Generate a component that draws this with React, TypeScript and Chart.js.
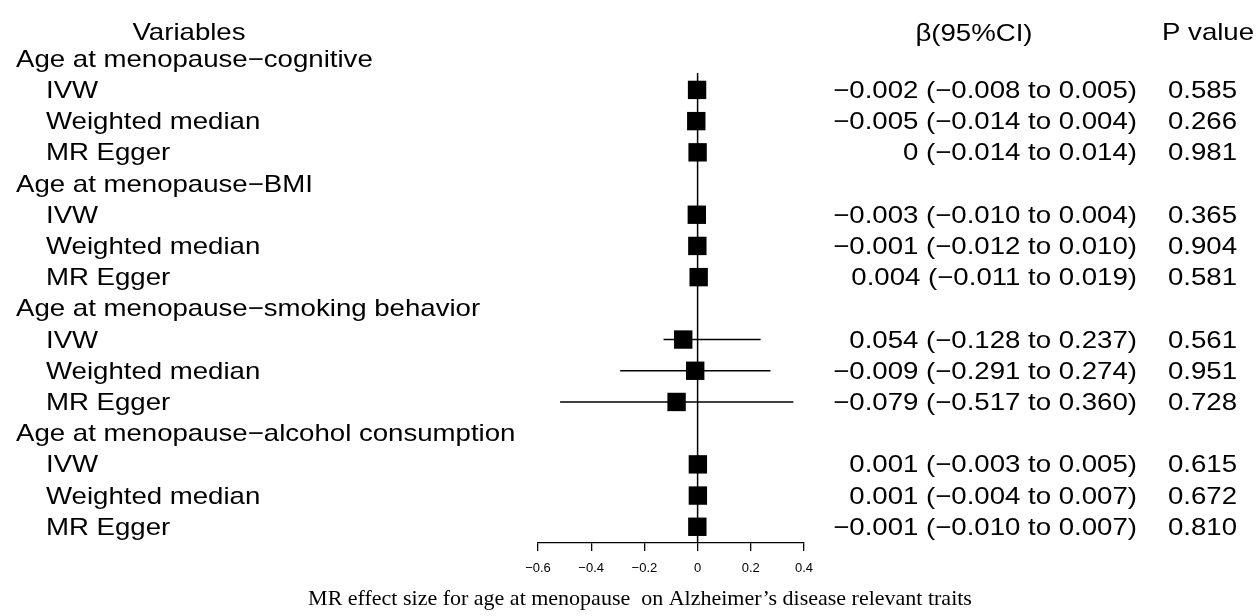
import React, { useEffect, useRef } from "react";
import { Chart, registerables } from "chart.js";

Chart.register(...registerables);

const groupLabels = [
  "Age at menopause−cognitive",
  "Age at menopause−BMI",
  "Age at menopause−smoking behavior",
  "Age at menopause−alcohol consumption",
];
const methodLabels = ["IVW", "Weighted median", "MR Egger"];

// plotted effect estimates (as drawn in the figure)
const betaValues = [
  -0.002, -0.005, 0,
  -0.003, -0.001, 0.004,
  -0.054, -0.009, -0.079,
  0.001, 0.001, -0.001,
];
const lowerCI = [
  -0.008, -0.014, -0.014,
  -0.01, -0.012, -0.011,
  -0.128, -0.291, -0.517,
  -0.003, -0.004, -0.01,
];
const upperCI = [
  0.005, 0.004, 0.014,
  0.004, 0.01, 0.019,
  0.237, 0.274, 0.36,
  0.005, 0.007, 0.007,
];
const betaLabels = [
  "−0.002 (−0.008 to 0.005)",
  "−0.005 (−0.014 to 0.004)",
  "0 (−0.014 to 0.014)",
  "−0.003 (−0.010 to 0.004)",
  "−0.001 (−0.012 to 0.010)",
  "0.004 (−0.011 to 0.019)",
  "0.054 (−0.128 to 0.237)",
  "−0.009 (−0.291 to 0.274)",
  "−0.079 (−0.517 to 0.360)",
  "0.001 (−0.003 to 0.005)",
  "0.001 (−0.004 to 0.007)",
  "−0.001 (−0.010 to 0.007)",
];
const pValueLabels = [
  "0.585", "0.266", "0.981",
  "0.365", "0.904", "0.581",
  "0.561", "0.951", "0.728",
  "0.615", "0.672", "0.810",
];
const tickValues = [-0.6, -0.4, -0.2, 0, 0.2, 0.4];
const tickLabels = ["−0.6", "−0.4", "−0.2", "0", "0.2", "0.4"];
const headerVariables = "Variables";
const headerBeta = "β(95%CI)";
const headerP = "P value";
const titleText =
  "MR effect size for age at menopause  on Alzheimer’s disease relevant traits";

const Y_MIN = 1.458;
const Y_MAX = 16.52;
const SX = 1.15;
const SANS = "'Liberation Sans', Arial, sans-serif";
const SERIF = "'Liberation Serif', 'Times New Roman', serif";

const groupRow = (g: number) => 1 + 4 * g;
const methodRow = (i: number) => 2 + 4 * Math.floor(i / 3) + (i % 3);

function drawStretched(
  ctx: CanvasRenderingContext2D,
  text: string,
  x: number,
  y: number,
  align: CanvasTextAlign,
  sx: number
) {
  ctx.save();
  ctx.translate(x, y);
  ctx.scale(sx, 1);
  ctx.textAlign = align;
  ctx.textBaseline = "alphabetic";
  ctx.fillText(text, 0, 0);
  ctx.restore();
}

const textPlugin = {
  id: "forestText",
  afterDraw(chart: any) {
    const ctx: CanvasRenderingContext2D = chart.ctx;
    const ys = chart.scales.y;
    ctx.save();
    ctx.fillStyle = "#000";
    ctx.font = `24px ${SANS}`;
    const base = (r: number) => ys.getPixelForValue(r) + 8;
    drawStretched(ctx, headerVariables, 189, base(0) + 4, "center", SX);
    drawStretched(ctx, headerBeta, 974, base(0) + 5, "center", SX);
    drawStretched(ctx, headerP, 1162, base(0) + 4, "left", SX);
    groupLabels.forEach((g, gi) => {
      drawStretched(ctx, g, 16, base(groupRow(gi)), "left", SX);
    });
    betaValues.forEach((_, i) => {
      const r = methodRow(i);
      drawStretched(ctx, methodLabels[i % 3], 46, base(r), "left", SX);
      drawStretched(ctx, betaLabels[i], 1137, base(r), "right", SX);
      drawStretched(ctx, pValueLabels[i], 1168, base(r), "left", SX);
    });
    ctx.font = `22px ${SERIF}`;
    ctx.textAlign = "center";
    ctx.textBaseline = "alphabetic";
    ctx.fillText(titleText, 640, 605);
    ctx.restore();
  },
};

export default function App() {
  const canvasRef = useRef<HTMLCanvasElement | null>(null);

  useEffect(() => {
    if (!canvasRef.current) return;
    const ciDatasets = betaValues.map((_, i) => ({
      type: "scatter" as const,
      data: [
        { x: lowerCI[i], y: methodRow(i) },
        { x: upperCI[i], y: methodRow(i) },
      ],
      showLine: true,
      borderColor: "#000",
      borderWidth: 1.4,
      pointRadius: 0,
      order: 2,
    }));
    const chart = new Chart(canvasRef.current, {
      type: "scatter",
      data: {
        datasets: [
          {
            data: betaValues.map((b, i) => ({ x: b, y: methodRow(i) })),
            pointStyle: "rect",
            pointRadius: 13,
            backgroundColor: "#000",
            borderWidth: 0,
            showLine: false,
            order: 0,
          },
          ...ciDatasets,
          {
            data: [
              { x: 0, y: Y_MIN },
              { x: 0, y: Y_MAX },
            ],
            showLine: true,
            borderColor: "#000",
            borderWidth: 1.5,
            pointRadius: 0,
            order: 3,
          },
        ] as any,
      },
      options: {
        animation: false,
        responsive: true,
        maintainAspectRatio: false,
        events: [],
        layout: { padding: { left: 538, right: 453, top: 73, bottom: 33 } },
        plugins: {
          legend: { display: false },
          tooltip: { enabled: false },
          title: { display: false },
        },
        scales: {
          x: {
            type: "linear",
            min: -0.6,
            max: 0.4,
            position: "bottom",
            afterBuildTicks: (s: any) => {
              s.ticks = tickValues.map((v) => ({ value: v }));
            },
            afterFit: (s: any) => {
              s.height = 40;
            },
            ticks: {
              callback: (_v: any, i: number) => tickLabels[i],
              font: { family: SANS, size: 13 },
              color: "#000",
              padding: 10,
              maxRotation: 0,
              autoSkip: false,
            },
            grid: {
              drawOnChartArea: false,
              drawTicks: true,
              tickLength: 8,
              color: "#000",
              lineWidth: 1.3,
            },
            border: { display: true, color: "#000", width: 1.3 },
          },
          y: {
            type: "linear",
            reverse: true,
            min: Y_MIN,
            max: Y_MAX,
            display: false,
          },
        },
      } as any,
      plugins: [textPlugin],
    });
    return () => chart.destroy();
  }, []);

  return (
    <div
      style={{
        position: "absolute",
        left: 0,
        top: 0,
        width: 1257,
        height: 616,
        background: "#fff",
      }}
    >
      <canvas ref={canvasRef} />
    </div>
  );
}
